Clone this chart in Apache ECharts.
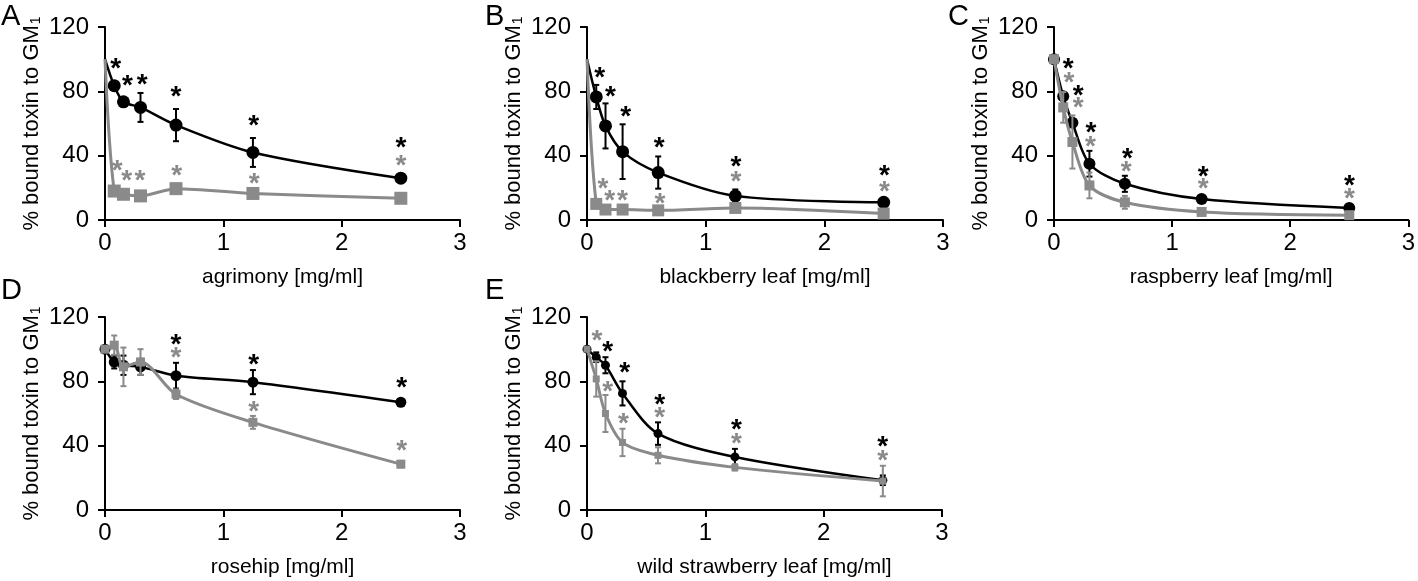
<!DOCTYPE html>
<html><head><meta charset="utf-8">
<script src="https://cdn.jsdelivr.net/npm/echarts@6/dist/echarts.min.js"></script>
<style>html,body{margin:0;padding:0;background:#fff}#c{width:1418px;height:581px}</style>
</head><body><div id="c"></div>
<script>
// ---------- DATA ----------
const concentrations = [0, 0.078, 0.156, 0.3, 0.6, 1.25, 2.5];
const panelLetters = ['A', 'B', 'C', 'D', 'E'];
const xAxisTitles = ['agrimony [mg/ml]', 'blackberry leaf [mg/ml]', 'raspberry leaf [mg/ml]', 'rosehip [mg/ml]', 'wild strawberry leaf [mg/ml]'];
const yAxisTitle = '% bound toxin to GM';
const yAxisTitleSub = '1';
const xTicks = [0, 1, 2, 3];
const yTicks = [0, 40, 80, 120];

const blackA = [100, 83.5, 73.5, 70, 59, 42, 26];
const blackErrA = [0, 2, 2, 9, 10, 9, 2];
const greyA = [100, 18, 16, 15, 19.5, 16.5, 13.5];
const greyErrA = [0, 1, 1, 1, 3, 1, 1];

const blackB = [100, 76.5, 58.5, 42.5, 29.5, 15, 11];
const blackErrB = [0, 7.5, 14, 17, 10, 4, 1];
const greyB = [100, 10, 6.5, 6.5, 6, 7.5, 4];
const greyErrB = [0, 0, 0, 0, 0, 0, 0];

const blackC = [100, 77, 60.5, 35, 22.5, 13, 7.5];
const blackErrC = [0, 2, 2, 8, 5, 2, 1];
const greyC = [100, 70, 48.5, 21.5, 11, 5, 3];
const greyErrC = [0, 9.5, 16.5, 8, 4, 1, 1];

const blackD = [100, 92, 90, 89, 83.5, 79.5, 67];
const blackErrD = [0, 4, 6, 5, 8, 7.5, 2];
const greyD = [100, 102.5, 89, 92, 72, 54.5, 28.5];
const greyErrD = [0, 6, 12, 8, 3, 4, 2];

const blackE = [100, 95, 90, 72.5, 47.5, 33, 18.5];
const blackErrE = [0, 3, 5, 7.5, 7, 5, 3];
const greyE = [100, 81.5, 60, 42, 34, 26.5, 18];
const greyErrE = [0, 11, 11.5, 8.5, 5, 2, 9.5];

// significance asterisks [concentration, level]
const starsBlackA = [[0.09, 97.8], [0.19, 87.5], [0.315, 88.1], [0.6, 80.4], [1.257, 62.8], [2.5, 48.7]];
const starsGreyA = [[0.104, 34.8], [0.183, 28.6], [0.296, 28.6], [0.606, 31.7], [1.26, 26.3], [2.5, 37.7]];
const starsBlackB = [[0.107, 92.2], [0.197, 80.4], [0.327, 68.4], [0.608, 48.7], [1.255, 36.9], [2.506, 31.5]];
const starsGreyB = [[0.135, 23.4], [0.192, 16], [0.299, 16], [0.614, 13.9], [1.255, 28], [2.506, 21.8]];
const starsBlackC = [[0.12, 97.8], [0.205, 81.3], [0.312, 58], [0.621, 42.1], [1.264, 30.7], [2.502, 25.5]];
const starsGreyC = [[0.126, 89.6], [0.205, 73.6], [0.309, 49.8], [0.612, 33.8], [1.264, 23.2], [2.502, 17.2]];
const starsBlackD = [[0.6, 106.9], [1.257, 94.4], [2.508, 79.9]];
const starsGreyD = [[0.6, 98.6], [1.257, 64.8], [2.508, 41.1]];
const starsBlackE = [[0.174, 102.7], [0.318, 89.2], [0.614, 69.5], [1.262, 54], [2.499, 43.6]];
const starsGreyE = [[0.085, 109], [0.174, 77.8], [0.309, 57.7], [0.614, 61.2], [1.262, 45], [2.499, 34.7]];

// ---------- LAYOUT / STYLE ----------
const FONT = "'Liberation Sans', Arial, sans-serif";
const BLACK = '#000000';
const GREY = '#8a8a8a';
const grids = [
  {left: 105, top: 27, width: 355, height: 193},
  {left: 587, top: 27, width: 356, height: 193},
  {left: 1054, top: 27, width: 356, height: 193},
  {left: 105, top: 317, width: 355, height: 193},
  {left: 587, top: 317, width: 355, height: 193}
];
const letterPos = [[1, 2], [485, 2], [948, 2], [1, 276], [485, 276]];
const panels = [
  {black: blackA, bErr: blackErrA, grey: greyA, gErr: greyErrA, sb: starsBlackA, sg: starsGreyA, zeroMarker: false, bSize: 13, gSize: 13},
  {black: blackB, bErr: blackErrB, grey: greyB, gErr: greyErrB, sb: starsBlackB, sg: starsGreyB, zeroMarker: false, bSize: 13, gSize: 12},
  {black: blackC, bErr: blackErrC, grey: greyC, gErr: greyErrC, sb: starsBlackC, sg: starsGreyC, zeroMarker: true, bSize: 12, gSize: 10},
  {black: blackD, bErr: blackErrD, grey: greyD, gErr: greyErrD, sb: starsBlackD, sg: starsGreyD, zeroMarker: true, bSize: 11, gSize: 9},
  {black: blackE, bErr: blackErrE, grey: greyE, gErr: greyErrE, sb: starsBlackE, sg: starsGreyE, zeroMarker: true, bSize: 9, gSize: 7}
];

function lineData(vals, zeroMarker) {
  return concentrations.map((c, i) => {
    const item = {value: [c, vals[i]]};
    if (c === 0 && !zeroMarker) item.symbol = 'none';
    return item;
  });
}
function errData(vals, errs) {
  return concentrations.map((c, i) => [c, vals[i], errs[i]]);
}
function errRender(color) {
  return function (params, api) {
    const x = api.value(0), y = api.value(1), e = api.value(2);
    if (!e) return null;
    const t = api.coord([x, y + e]);
    const b = api.coord([x, y - e]);
    const w = 3;
    const st = {stroke: color, lineWidth: 2};
    return {type: 'group', children: [
      {type: 'line', shape: {x1: t[0], y1: t[1], x2: b[0], y2: b[1]}, style: st},
      {type: 'line', shape: {x1: t[0] - w, y1: t[1], x2: t[0] + w, y2: t[1]}, style: st},
      {type: 'line', shape: {x1: b[0] - w, y1: b[1], x2: b[0] + w, y2: b[1]}, style: st}
    ]};
  };
}
const STAR_SIZE = 28;
function starRender(color) {
  return function (params, api) {
    const p = api.coord([api.value(0), api.value(1)]);
    return {type: 'text', x: p[0], y: p[1] + STAR_SIZE * 0.25,
      style: {text: '*', fill: color, font: 'bold ' + STAR_SIZE + 'px ' + FONT, align: 'center', verticalAlign: 'middle'}};
  };
}

const option = {
  backgroundColor: '#ffffff',
  animation: false,
  title: panelLetters.map((L, i) => ({text: L, left: letterPos[i][0], top: letterPos[i][1], padding: 0,
    textStyle: {fontFamily: FONT, fontSize: 29, fontWeight: 'normal', color: BLACK}})),
  grid: grids.map(g => Object.assign({containLabel: false}, g)),
  xAxis: grids.map((g, i) => ({
    gridIndex: i, type: 'value', min: 0, max: 3, interval: 1,
    name: xAxisTitles[i], nameLocation: 'middle', nameGap: 47,
    nameTextStyle: {fontFamily: FONT, fontSize: 21, color: BLACK},
    axisLine: {show: true, onZero: false, lineStyle: {color: BLACK, width: 2}},
    axisTick: {show: true, inside: false, length: 7, lineStyle: {color: BLACK, width: 2}},
    axisLabel: {fontFamily: FONT, fontSize: 24, color: BLACK, margin: 11,
      formatter: v => xTicks.includes(v) ? String(v) : ''},
    splitLine: {show: false}
  })),
  yAxis: grids.map((g, i) => ({
    gridIndex: i, type: 'value', min: 0, max: 120, interval: 40,
    name: yAxisTitle + '{s|' + yAxisTitleSub + '}', nameLocation: 'middle', nameGap: 62, nameRotate: 90,
    nameTextStyle: {fontFamily: FONT, fontSize: 22, color: BLACK,
      rich: {s: {fontFamily: FONT, fontSize: 14, color: BLACK, verticalAlign: 'bottom', padding: [0, 0, 0, 1]}}},
    axisLine: {show: true, onZero: false, lineStyle: {color: BLACK, width: 2}},
    axisTick: {show: true, inside: false, length: 7, lineStyle: {color: BLACK, width: 2}},
    axisLabel: {fontFamily: FONT, fontSize: 24, color: BLACK, margin: 16,
      formatter: v => yTicks.includes(v) ? String(v) : ''},
    splitLine: {show: false}
  })),
  series: []
};

panels.forEach((p, i) => {
  option.series.push(
    {type: 'custom', xAxisIndex: i, yAxisIndex: i, renderItem: errRender(BLACK), data: errData(p.black, p.bErr), encode: {x: 0, y: 1}, z: 3},
    {type: 'line', xAxisIndex: i, yAxisIndex: i, data: lineData(p.black, p.zeroMarker), smooth: 0.3,
      symbol: 'circle', symbolSize: p.bSize, showSymbol: true, lineStyle: {color: BLACK, width: 2.5}, itemStyle: {color: BLACK}, z: 4},
    {type: 'custom', xAxisIndex: i, yAxisIndex: i, renderItem: errRender(GREY), data: errData(p.grey, p.gErr), encode: {x: 0, y: 1}, z: 5},
    {type: 'line', xAxisIndex: i, yAxisIndex: i, data: lineData(p.grey, p.zeroMarker), smooth: 0.3,
      symbol: 'rect', symbolSize: p.gSize, showSymbol: true, lineStyle: {color: GREY, width: 3}, itemStyle: {color: GREY}, z: 6},
    {type: 'custom', xAxisIndex: i, yAxisIndex: i, renderItem: starRender(BLACK), data: p.sb, encode: {x: 0, y: 1}, z: 7},
    {type: 'custom', xAxisIndex: i, yAxisIndex: i, renderItem: starRender(GREY), data: p.sg, encode: {x: 0, y: 1}, z: 7}
  );
});

const chart = echarts.init(document.getElementById('c'), null, {renderer: 'canvas'});
chart.setOption(option);
</script></body></html>
